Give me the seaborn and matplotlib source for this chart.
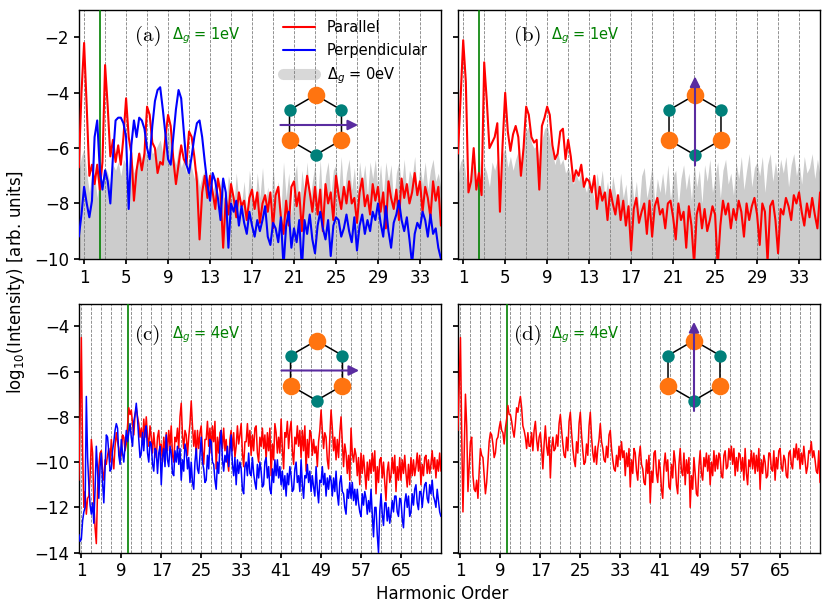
import numpy as np
import pandas as pd
import matplotlib.pyplot as plt
import seaborn as sns
from matplotlib.lines import Line2D

# ---------------- data (log10 intensity) ----------------
# top row: harmonic grid 0.5 .. 35 in steps of 0.25
harm_top = np.arange(0.5, 35.001, 0.25)
# bottom row: harmonic grid 0.5 .. 73 in steps of 0.25
harm_bot = np.arange(0.5, 73.001, 0.25)

a_parallel = [
    -6.7, -4.0,
    -2.2, -4.5, -7.0, -6.6,  -7.3, -6.6, -7.5, -6.5,  -3.0, -4.5, -6.3, -5.7,
    -6.5, -5.9, -6.6, -5.6,  -4.2, -5.6, -6.2, -7.9,  -6.8, -6.2, -6.8, -6.2,
    -4.5, -4.8, -5.8, -6.0,  -6.9, -6.5, -6.6, -5.6,  -4.8, -5.2, -6.4, -7.3,
    -6.6, -5.9, -6.4, -6.6,  -5.4, -5.6, -6.3, -7.2,  -9.3, -7.6, -7.0, -7.8,
    -7.0, -7.6, -8.2, -7.1,  -7.6, -9.6, -7.8, -8.4,  -7.3, -7.8, -8.5, -7.6,
    -8.1, -7.9, -8.6, -7.8,  -7.5, -8.2, -7.6, -8.7,  -8.0, -7.7, -8.3, -7.6,
    -8.9, -7.7, -7.4, -8.5,  -9.1, -7.9, -8.8, -7.4,  -7.2, -8.1, -7.6, -9.0,
    -7.8, -7.0, -7.6, -8.3,  -7.4, -8.4, -7.5, -9.0,  -7.3, -8.0, -7.6, -8.6,
    -7.0, -7.7, -8.2, -7.4,  -8.0, -7.2, -8.0, -7.8,  -8.7, -7.6, -7.1, -8.1,
    -7.7, -8.4, -7.3, -7.9,  -7.4, -8.3, -7.6, -8.9,  -7.2, -7.8, -8.2, -7.5,
    -8.6, -7.1, -7.8, -7.3,  -8.0, -7.6, -6.9, -7.7,  -7.2, -8.3, -7.4, -7.8,
    -8.5, -7.2, -7.9, -7.4,
    -8.8,
]
a_perpendicular = [
    -9.2, -8.4,
    -7.4, -8.0, -8.5, -7.9,  -5.6, -5.0, -6.8, -7.5,  -6.8, -7.2, -8.0, -6.3,
    -5.0, -4.9, -4.9, -5.1,  -5.6, -8.2, -5.9, -5.0,  -5.6, -4.9, -5.0, -5.3,
    -6.0, -6.4, -5.2, -4.3,  -3.9, -3.8, -4.6, -5.5,  -6.4, -6.6, -5.6, -4.6,
    -3.9, -4.2, -5.4, -6.6,  -6.9, -6.3, -5.6, -5.1,  -5.0, -5.6, -6.5, -7.3,
    -7.9, -6.9, -7.2, -7.8,  -8.6, -7.1, -7.6, -9.6,  -8.0, -8.3, -7.9, -8.8,
    -8.1, -8.7, -9.1, -8.3,  -8.8, -9.2, -8.6, -9.0,  -8.6, -8.1, -9.2, -9.5,
    -8.7, -8.9, -9.4, -8.5,  -10.3, -8.8, -8.3, -9.6,  -8.9, -9.4, -8.6, -10.4,
    -8.6, -9.1, -8.4, -9.3,  -9.8, -8.8, -8.3, -8.9,  -9.3, -8.6, -9.9, -8.8,
    -8.5, -8.6, -9.2, -8.9,  -8.4, -9.0, -9.4, -8.5,  -9.7, -8.8, -8.4, -9.1,
    -8.6, -9.0, -8.3, -8.6,  -8.0, -8.7, -9.2, -8.1,  -9.0, -9.6, -8.7, -8.4,
    -7.9, -8.6, -9.0, -8.5,  -9.3, -10.2, -9.1, -8.7,  -8.9, -8.3, -8.6, -9.2,
    -8.4, -9.1, -8.9, -9.6,
    -10.0,
]
a_gapless = [
    -6.8, -6.3,
    -6.0, -6.9, -7.6, -6.9,  -7.0, -7.8, -6.6, -7.4,  -6.7, -6.9, -7.3, -6.6,
    -6.8, -6.5, -7.0, -6.4,  -6.6, -7.6, -6.3, -6.9,  -6.6, -6.1, -6.4, -6.0,
    -6.3, -5.8, -6.2, -6.1,  -5.9, -5.7, -6.2, -5.6,  -5.3, -5.8, -6.3, -6.6,
    -6.0, -6.7, -6.4, -6.9,  -6.3, -6.7, -7.1, -6.8,  -7.4, -7.0, -6.8, -7.2,
    -6.8, -7.6, -7.2, -8.0,  -7.1, -7.6, -8.1, -7.0,  -7.4, -8.2, -6.9, -7.9,
    -8.0, -7.2, -8.4, -6.8,  -7.6, -8.3, -6.9, -7.8,  -6.7, -8.1, -7.4, -8.5,
    -6.6, -7.9, -7.2, -8.3,  -6.5, -7.8, -6.9, -8.4,  -7.1, -6.6, -8.2, -6.8,
    -7.6, -6.5, -8.0, -7.2,  -6.6, -7.9, -6.4, -8.1,  -7.0, -6.5, -7.7, -6.8,
    -6.6, -7.6, -6.3, -7.8,  -6.9, -6.4, -7.5, -6.7,  -7.9, -6.5, -7.3, -6.6,
    -7.7, -6.5, -7.1, -6.4,  -7.5, -6.6, -7.8, -6.5,  -7.2, -6.6, -8.0, -6.9,
    -6.5, -7.4, -6.4, -7.6,  -6.8, -7.1, -6.3, -7.7,  -6.6, -7.3, -6.5, -7.5,
    -6.8, -6.4, -7.2, -6.9,
    -7.5,
]

b_parallel = [
    -6.2, -4.2,
    -2.1, -3.6, -7.6, -7.2,  -6.0, -7.5, -6.9, -7.7,  -2.9, -4.3, -6.0, -5.8,
    -5.6, -5.1, -8.3, -5.9,  -4.0, -5.4, -6.1, -5.5,  -5.2, -5.6, -7.0, -6.0,
    -4.5, -4.8, -5.6, -5.8,  -5.7, -7.5, -5.2, -4.9,  -4.5, -4.8, -5.9, -6.4,
    -6.2, -5.4, -5.3, -6.4,  -5.7, -6.3, -7.2, -6.8,  -7.0, -6.6, -7.4, -7.1,
    -7.2, -7.6, -7.0, -8.2,  -7.4, -7.9, -7.6, -8.6,  -7.5, -8.0, -8.4, -7.7,
    -8.6, -7.9, -8.8, -8.1,  -9.7, -8.2, -7.8, -8.7,  -8.3, -8.0, -9.1, -7.9,
    -9.2, -8.1, -7.8, -8.4,  -8.2, -8.9, -8.0, -7.9,  -8.5, -9.3, -8.0, -8.6,
    -8.3, -9.6, -8.1, -8.8,  -10.2, -8.4, -8.0, -8.9,  -8.2, -9.0, -8.6, -8.1,
    -8.4, -10.3, -8.8, -7.9,  -8.4, -8.0, -8.9, -8.2,  -8.6, -7.9, -8.3, -9.2,
    -8.0, -8.6, -8.1, -7.8,  -8.4, -9.5, -8.0, -8.3,  -10.1, -8.1, -7.9, -8.6,
    -9.8, -8.2, -8.4, -7.8,  -8.1, -8.6, -7.7, -8.0,  -7.6, -8.3, -8.8, -8.0,
    -8.5, -7.8, -8.4, -8.9,
    -7.6,
]
b_gapless = [
    -7.0, -6.5,
    -6.3, -7.0, -7.5, -6.8,  -6.6, -7.4, -6.1, -7.3,  -6.6, -6.9, -7.4, -6.5,
    -6.8, -6.4, -7.3, -6.2,  -6.0, -6.7, -6.3, -6.8,  -6.4, -6.1, -6.6, -5.6,
    -5.4, -5.2, -5.8, -6.0,  -5.9, -6.4, -5.7, -5.3,  -5.2, -5.7, -6.2, -6.6,
    -6.1, -6.6, -6.4, -6.9,  -6.7, -7.0, -7.3, -6.9,  -7.2, -6.8, -7.3, -7.6,
    -7.0, -7.4, -7.9, -6.9,  -7.5, -6.8, -7.8, -7.2,  -8.0, -7.0, -7.6, -8.1,
    -6.9, -7.8, -7.3, -8.3,  -6.8, -7.9, -7.2, -8.2,  -7.0, -6.7, -7.8, -7.3,
    -6.6, -8.0, -7.1, -7.6,  -6.9, -7.7, -6.6, -7.9,  -7.0, -6.8, -8.1, -7.1,
    -6.6, -7.5, -6.9, -7.9,  -6.5, -7.4, -6.8, -8.0,  -6.6, -7.2, -6.4, -7.6,
    -7.0, -6.5, -7.8, -6.8,  -6.4, -7.3, -6.9, -7.7,  -6.5, -7.1, -6.3, -7.5,
    -6.8, -6.2, -7.4, -6.7,  -6.5, -7.0, -6.3, -7.6,  -6.6, -6.2, -7.2, -6.5,
    -7.1, -6.4, -6.9, -6.3,  -7.4, -6.6, -6.2, -7.0,  -6.5, -7.3, -6.3, -6.9,
    -6.7, -6.2, -7.1, -6.4,
    -7.0,
]

c_parallel = [
    -10.8, -8.0,
    -4.5, -9.5, -12.0, -11.3,  -12.3, -11.6, -11.5, -10.6,  -9.0, -9.6, -11.8, -12.9,
    -13.6, -11.2, -10.2, -9.6,  -9.5, -10.4, -10.8, -9.9,  -10.1, -9.7, -9.4, -10.0,
    -9.0, -9.8, -10.3, -9.3,  -8.7, -9.1, -9.4, -9.9,  -9.6, -8.8, -8.9, -9.5,
    -9.2, -8.4, -7.6, -7.9,  -7.7, -8.3, -8.8, -7.9,  -7.6, -8.0, -8.3, -8.9,
    -8.5, -9.2, -8.1, -8.9,  -8.0, -8.9, -9.3, -8.4,  -8.9, -9.6, -8.7, -9.4,
    -9.8, -8.9, -8.6, -9.5,  -9.2, -10.0, -8.9, -9.6,  -8.7, -9.5, -8.6, -9.3,
    -8.4, -9.7, -10.0, -8.9,  -9.1, -8.5, -9.4, -8.0,  -7.4, -8.8, -9.4, -8.6,
    -8.8, -9.7, -8.9, -8.3,  -7.3, -8.4, -9.3, -8.6,  -9.8, -8.6, -9.4, -8.7,
    -8.4, -9.5, -10.1, -9.0,  -9.0, -8.2, -9.3, -8.5,  -9.6, -8.4, -9.1, -8.2,
    -10.3, -8.9, -9.6, -8.7,  -8.6, -9.4, -8.5, -9.5,  -9.0, -9.9, -10.4, -9.0,
    -8.6, -9.5, -8.7, -9.8,  -9.3, -8.4, -9.2, -8.8,  -8.3, -9.6, -10.2, -9.1,
    -9.1, -8.3, -9.3, -8.6,  -9.7, -8.8, -9.5, -8.5,  -8.4, -9.6, -10.0, -8.9,
    -9.3, -8.5, -9.4, -8.8,  -9.9, -8.7, -9.5, -8.5,  -10.6, -9.2, -9.9, -8.3,
    -8.7, -9.6, -8.9, -9.6,  -8.1, -9.4, -10.3, -8.7,  -8.9, -8.2, -9.4, -8.6,
    -8.2, -9.5, -10.1, -8.9,  -9.2, -8.4, -9.3, -8.6,  -9.8, -8.6, -9.5, -8.4,
    -10.4, -9.0, -9.8, -8.6,  -8.8, -9.7, -9.0, -9.6,  -9.3, -10.2, -9.1, -8.6,
    -7.7, -8.6, -9.4, -8.7,  -8.9, -9.9, -10.3, -8.9,  -7.7, -8.5, -9.5, -8.9,
    -9.9, -9.0, -9.8, -8.7,  -8.0, -9.1, -10.2, -9.2,  -9.6, -10.5, -9.7, -10.8,
    -8.5, -9.6, -10.0, -9.4,  -9.7, -10.6, -9.8, -11.0,  -9.6, -10.5, -9.7, -10.4,
    -11.2, -10.0, -10.8, -9.9,  -10.5, -9.6, -10.4, -9.5,  -11.4, -10.2, -10.9, -9.9,
    -9.8, -10.7, -10.0, -10.9,  -11.7, -10.4, -10.0, -10.9,  -10.6, -9.8, -10.5, -9.7,
    -11.3, -10.2, -10.8, -9.8,  -10.8, -9.9, -10.5, -9.7,  -10.5, -11.1, -10.1, -11.0,
    -9.8, -10.6, -9.9, -10.6,  -10.2, -9.6, -10.4, -9.7,  -11.0, -10.1, -10.6, -9.8,
    -9.7, -10.5, -9.9, -10.5,  -10.1, -9.5, -10.3, -9.8,  -10.7, -9.9, -10.4, -9.6,
    -10.4,
]
c_perpendicular = [
    -13.2, -13.5,
    -13.4, -12.6, -12.2, -12.0,  -7.1, -9.8, -11.0, -11.9,  -12.3, -11.8, -12.7, -11.2,
    -9.3, -10.4, -11.6, -10.2,  -9.6, -10.9, -11.8, -10.3,  -8.8, -8.9, -9.6, -10.4,
    -10.3, -9.5, -9.1, -8.6,  -8.3, -8.5, -9.7, -10.1,  -9.0, -9.6, -10.0, -9.3,
    -8.6, -9.1, -8.7, -8.3,  -8.9, -9.3, -8.2, -7.9,  -7.4, -8.1, -9.0, -9.8,
    -9.6, -8.7, -9.5, -8.6,  -8.4, -9.6, -10.0, -9.1,  -9.2, -10.1, -10.4, -9.4,
    -9.5, -10.5, -9.6, -9.3,  -11.0, -9.8, -9.4, -10.2,  -8.8, -9.9, -10.2, -9.3,
    -9.6, -10.5, -10.6, -9.5,  -10.0, -9.3, -10.1, -9.4,  -10.8, -9.9, -10.4, -9.2,
    -9.5, -10.3, -9.8, -10.9,  -10.0, -10.9, -11.2, -10.0,  -9.4, -10.3, -10.5, -9.7,
    -8.9, -10.0, -10.3, -10.9,  -10.8, -9.7, -10.3, -9.0,  -9.1, -10.0, -10.1, -10.8,
    -11.2, -10.0, -10.5, -9.3,  -8.6, -9.9, -10.4, -9.7,  -10.0, -9.3, -10.2, -9.5,
    -8.8, -10.1, -10.6, -9.8,  -11.0, -9.9, -10.5, -10.0,  -10.3, -11.2, -11.4, -10.2,
    -10.0, -10.6, -9.6, -10.5,  -10.6, -9.8, -10.5, -10.9,  -11.2, -10.1, -10.7, -10.0,
    -10.4, -11.1, -11.0, -10.0,  -9.8, -10.7, -10.2, -11.2,  -11.4, -10.3, -10.9, -9.9,
    -10.6, -9.9, -10.7, -10.2,  -11.0, -10.4, -11.2, -10.6,  -11.5, -10.5, -11.0, -10.2,
    -10.6, -11.3, -11.2, -10.3,  -10.0, -10.9, -10.6, -11.3,  -9.9, -11.0, -11.6, -10.6,
    -10.7, -10.1, -10.9, -10.4,  -11.3, -10.6, -11.1, -11.5,  -10.2, -11.2, -11.8, -10.8,
    -10.9, -10.2, -11.0, -10.5,  -11.5, -10.7, -11.2, -10.6,  -10.8, -11.5, -10.7, -11.3,
    -10.4, -11.4, -11.9, -10.9,  -10.6, -11.3, -11.4, -12.0,  -12.3, -11.2, -11.6, -10.9,
    -11.6, -10.9, -11.7, -11.2,  -11.9, -11.2, -11.8, -12.2,  -12.4, -11.4, -11.9, -11.3,
    -11.6, -12.3, -11.7, -12.2,  -11.2, -12.3, -13.3, -12.0,  -12.0, -13.2, -14.0, -12.2,
    -11.4, -12.3, -12.8, -11.8,  -11.8, -12.6, -12.0, -12.7,  -12.3, -11.7, -12.2, -11.5,
    -11.5, -12.2, -12.4, -11.6,  -11.7, -12.5, -12.9, -11.8,  -11.4, -12.0, -11.5, -12.4,
    -12.2, -11.4, -11.9, -11.2,  -11.0, -11.8, -12.1, -11.3,  -11.3, -12.0, -11.4, -11.0,
    -10.9, -11.6, -11.8, -11.0,  -11.4, -10.8, -11.5, -11.7,  -12.0, -11.2, -11.7, -12.2,
    -12.4,
]
d_parallel = [
    -8.6, -6.5,
    -4.5, -8.8, -12.2, -9.5,  -7.0, -8.4, -11.3, -10.2,  -9.1, -8.9, -10.6, -11.2,
    -11.3, -10.8, -11.6, -10.4,  -9.4, -9.7, -9.8, -10.6,  -11.4, -10.9, -10.0, -9.1,
    -8.7, -8.8, -9.2, -9.8,  -9.6, -9.0, -8.9, -8.5,  -8.2, -8.6, -8.7, -9.2,
    -8.5, -8.1, -7.5, -7.9,  -7.9, -8.2, -8.6, -8.9,  -8.3, -7.6, -7.8, -7.4,
    -7.1, -7.6, -8.4, -8.6,  -8.9, -9.4, -8.7, -9.3,  -9.3, -8.7, -9.5, -8.6,
    -8.2, -9.0, -9.5, -8.9,  -8.7, -9.4, -10.3, -9.2,  -8.4, -9.3, -9.7, -8.9,
    -10.7, -9.4, -8.9, -9.5,  -9.4, -8.8, -9.3, -8.3,  -7.9, -8.6, -9.2, -9.7,
    -9.8, -8.9, -9.5, -8.2,  -7.8, -8.7, -9.4, -9.9,  -10.2, -9.1, -9.6, -8.3,
    -7.8, -8.8, -9.5, -10.1,  -10.0, -9.2, -9.7, -8.4,  -7.8, -8.9, -9.6, -10.0,
    -9.3, -10.1, -9.4, -9.0,  -8.3, -9.1, -9.4, -9.9,  -10.0, -9.3, -9.8, -8.8,
    -8.6, -9.4, -9.9, -10.3,  -10.4, -9.7, -10.2, -9.3,  -9.9, -9.1, -9.8, -9.5,
    -10.6, -9.6, -10.2, -9.4,  -11.1, -9.9, -10.5, -9.4,  -9.6, -10.4, -10.8, -9.8,
    -9.3, -10.1, -10.3, -10.9,  -11.0, -9.9, -10.5, -9.7,  -11.8, -10.4, -10.9, -9.6,
    -9.5, -10.5, -10.9, -9.9,  -10.3, -11.2, -11.6, -10.2,  -9.6, -10.4, -9.9, -11.1,
    -11.2, -10.1, -10.7, -9.5,  -10.0, -11.0, -11.4, -10.1,  -9.4, -10.4, -10.6, -9.6,
    -11.0, -9.9, -10.5, -9.8,  -12.0, -10.6, -11.2, -9.8,  -10.5, -11.4, -11.5, -10.2,
    -9.5, -10.5, -10.8, -9.8,  -10.2, -9.6, -10.4, -9.7,  -11.0, -10.0, -10.6, -9.5,
    -10.4, -9.7, -10.3, -9.6,  -9.8, -10.6, -10.7, -9.7,  -9.5, -10.3, -10.2, -9.4,
    -9.9, -9.3, -10.1, -9.4,  -10.6, -9.8, -10.4, -9.6,  -9.7, -10.4, -9.8, -10.8,
    -9.4, -10.5, -11.0, -9.9,  -10.2, -9.5, -10.3, -9.6,  -10.5, -9.7, -10.4, -9.4,
    -11.2, -9.9, -10.5, -9.7,  -10.0, -10.7, -10.6, -9.6,  -9.6, -10.3, -10.4, -9.5,
    -10.8, -9.8, -10.3, -9.5,  -9.4, -10.2, -10.4, -9.7,  -9.9, -10.6, -10.7, -9.6,
    -9.5, -10.1, -10.3, -9.4,  -9.8, -9.2, -9.9, -9.4,  -10.3, -9.6, -10.1, -9.3,
    -9.9, -10.5, -10.2, -9.5,  -9.6, -9.1, -9.8, -9.5,  -9.9, -10.4, -10.5, -9.5,
    -10.9,
]

gap_harmonic = [2.55, 2.55, 10.25, 10.25]   # Delta_g / hbar*omega
gap_text = ["1eV", "1eV", "4eV", "4eV"]
panel_tags = ["(a)", "(b)", "(c)", "(d)"]
field_dir = ["x", "y", "x", "y"]

red = "#ff0000"
blue = "#0000ff"
orange = "#ff7410"
teal = "#00807a"
purple = "#5a2ca0"

sns.set_theme(style="ticks", rc={
    "axes.edgecolor": "black", "text.color": "black",
    "xtick.color": "black", "ytick.color": "black",
    "axes.labelcolor": "black", "axes.linewidth": 1.0,
})
plt.rcParams["font.family"] = ["DejaVu Sans"]

fig, axes = plt.subplots(2, 2, figsize=(8.3, 6.1), dpi=100, sharey="row")
fig.subplots_adjust(left=0.095, right=0.988, top=0.984, bottom=0.094,
                    wspace=0.047, hspace=0.18)
axs = axes.ravel()

# gapless reference, drawn as a filled area
for ax, g in [(axs[0], a_gapless), (axs[1], b_gapless)]:
    ax.fill_between(harm_top, -10, g, color="grey", alpha=0.4, lw=0, zorder=1)

df_a = pd.DataFrame({"h": harm_top, "par": a_parallel, "perp": a_perpendicular})
df_b = pd.DataFrame({"h": harm_top, "par": b_parallel})
df_c = pd.DataFrame({"h": harm_bot, "par": c_parallel, "perp": c_perpendicular})
df_d = pd.DataFrame({"h": harm_bot, "par": d_parallel})

sns.lineplot(data=df_a, x="h", y="par", ax=axs[0], color=red, lw=1.5, zorder=4)
sns.lineplot(data=df_a, x="h", y="perp", ax=axs[0], color=blue, lw=1.5, zorder=4)
sns.lineplot(data=df_b, x="h", y="par", ax=axs[1], color=red, lw=1.5, zorder=4)
sns.lineplot(data=df_c, x="h", y="par", ax=axs[2], color=red, lw=1.1, zorder=4)
sns.lineplot(data=df_c, x="h", y="perp", ax=axs[2], color=blue, lw=1.1, zorder=4)
sns.lineplot(data=df_d, x="h", y="par", ax=axs[3], color=red, lw=1.1, zorder=4)

for i, ax in enumerate(axs):
    top = i < 2
    xmax = 35 if top else 73
    for h in np.arange(1, xmax + 1, 2):
        ax.axvline(h, color="grey", ls="--", lw=0.6, zorder=2)
    ax.axvline(gap_harmonic[i], color="green", lw=1.2, zorder=3)
    ax.set_xlim(0.5, xmax)
    if top:
        ax.set_ylim(-10, -1)
        ax.set_xticks(np.arange(1, 35, 4))
        ax.set_yticks(np.arange(-10, -1, 2))
    else:
        ax.set_ylim(-14, -3)
        ax.set_xticks(np.arange(1, 73, 8))
        ax.set_yticks(np.arange(-14, -3, 2))
    ax.tick_params(labelsize=12, length=3.5)
    ax.set_xlabel("")
    ax.set_ylabel("")
    ty = 0.895 if top else 0.875
    ax.text(0.155, ty, panel_tags[i], transform=ax.transAxes, family="cmr10",
            fontsize=15, va="center")
    ax.text(0.257, ty, r"$\Delta_g$ = " + gap_text[i], transform=ax.transAxes,
            color="green", fontsize=10.5, va="center")

handles = [Line2D([], [], color=red, lw=1.5),
           Line2D([], [], color=blue, lw=1.5),
           Line2D([], [], color="grey", lw=8, alpha=0.3)]
axs[0].legend(handles, ["Parallel", "Perpendicular", r"$\Delta_g$ = 0eV"],
              loc="upper right", bbox_to_anchor=(1.0, 1.01), frameon=False,
              fontsize=10.5, handlelength=2.2)

# lattice sketch with field direction
hex_centres = [(315.5, 125), (695, 125), (316.5, 370.5), (694, 370.5)]
ang = np.deg2rad(np.arange(90, 450, 60))
for i, (cx, cy) in enumerate(hex_centres):
    size = 120
    ins = fig.add_axes([(cx - size / 2) / 830, 1 - (cy + size / 2) / 610,
                        size / 830, size / 610])
    ins.set_xlim(-2, 2)
    ins.set_ylim(-2, 2)
    ins.axis("off")
    hx, hy = np.cos(ang), np.sin(ang)
    ins.plot(np.append(hx, hx[0]), np.append(hy, hy[0]), color="black", lw=1.1, zorder=1)
    ins.scatter(hx[0::2], hy[0::2], s=160, color=orange, zorder=2, lw=0)
    ins.scatter(hx[1::2], hy[1::2], s=80, color=teal, zorder=2, lw=0)
    if field_dir[i] == "x":
        ins.annotate("", xy=(1.42, 0), xytext=(-1.17, 0),
                     arrowprops=dict(arrowstyle="-|>", color=purple, lw=1.5,
                                     mutation_scale=15, shrinkA=0, shrinkB=0), zorder=3)
    else:
        ins.annotate("", xy=(0, 1.62), xytext=(0, -1.35),
                     arrowprops=dict(arrowstyle="-|>", color=purple, lw=1.5,
                                     mutation_scale=15, shrinkA=0, shrinkB=0), zorder=3)

fig.text(0.533, 0.012, "Harmonic Order", ha="center", va="bottom", fontsize=12)
fig.text(0.006, 0.538, r"log$_{10}$(Intensity) [arb. units]", rotation=90,
         ha="left", va="center", fontsize=12)

fig.savefig("out.png", dpi=100)
